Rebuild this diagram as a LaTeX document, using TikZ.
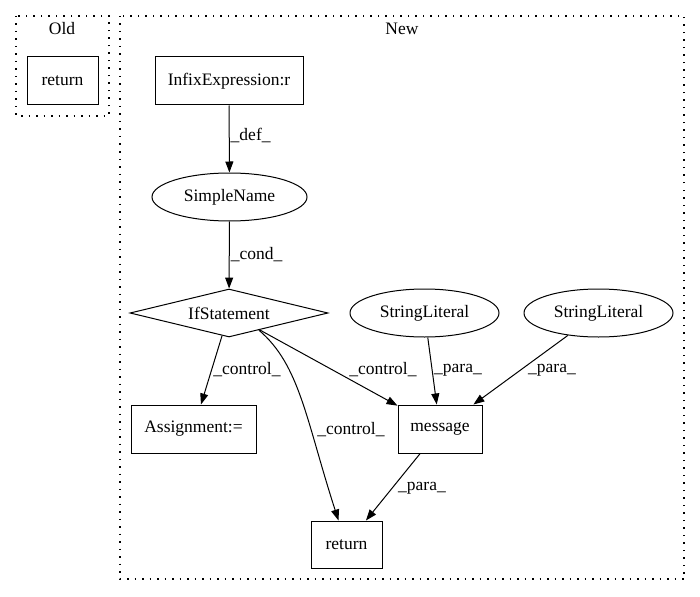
\documentclass[tikz,border=0pt]{standalone}
\usepackage{fontspec}
\setmainfont{Liberation Serif}
\usetikzlibrary{shapes.geometric,arrows.meta,calc}
\tikzset{
  every node/.style={font=\fontsize{17.5}{19}\selectfont, inner sep=0pt},
  boxnode/.style={draw, line width=1pt, rectangle},
  ellnode/.style={draw, line width=1pt, ellipse, minimum width=149pt, minimum height=48pt},
  cluster/.style={draw, line width=1.2pt, dash pattern=on 1.5pt off 6pt},
  edge/.style={draw, line width=1pt, -{Triangle[length=11pt,width=8pt]}},
}
\begin{document}
\begin{tikzpicture}[x=1pt,y=-1pt]
\useasboundingbox (0,0) rectangle (700,596);
% clusters
\draw[cluster] (16,16) rectangle (109,116);
\node (oldlbl) at (62,29) {Old};
\draw[cluster] (120,16) rectangle (684,579);
\node (newlbl) at (402,29) {New};
% nodes
\node[boxnode, minimum width=71pt, minimum height=48pt] (oldret) at (62.5,81) {return};
\node[boxnode, minimum width=148pt, minimum height=48pt] (infix) at (229,81) {InfixExpression:r};
\node[ellnode, minimum width=155pt] (sn) at (229.5,197) {SimpleName};
\node[draw, line width=1pt, diamond, aspect=4.1, minimum width=198pt, minimum height=48pt] (ifs) at (229,313) {IfStatement};
\node[ellnode] (sl1) at (424.5,313) {StringLiteral};
\node[ellnode] (sl2) at (598.5,313) {StringLiteral};
\node[boxnode, minimum width=125pt, minimum height=48pt] (asg) at (193.5,429) {Assignment:=};
\node[boxnode, minimum width=84pt, minimum height=48pt] (msg) at (440,429) {message};
\node[boxnode, minimum width=71pt, minimum height=47pt] (ret) at (346.5,544.5) {return};
% edges
\draw[edge] (infix) -- (sn) node[pos=0.45, right=1pt] {\_def\_};
\draw[edge] (sn) -- (ifs) node[pos=0.5, right=1pt] {\_cond\_};
\draw[edge] (ifs) -- (asg);
\node (l1) at (247,370) {\_control\_};
\draw[edge] (ifs) -- (msg);
\node (l2) at (383,370) {\_control\_};
\draw[edge] ($(ifs.south)!0.3!(ifs.east)$) .. controls (300,365) and (306,420) .. ([xshift=-8pt]ret.north);
\node (l3) at (351,430) {\_control\_};
\draw[edge] (sl1) -- (msg);
\node (l4) at (458,370) {\_para\_};
\draw[edge] (sl2) -- (msg);
\node (l5) at (552,370) {\_para\_};
\draw[edge] (msg) -- (ret);
\node (l6) at (422,488) {\_para\_};
\end{tikzpicture}
\end{document}
